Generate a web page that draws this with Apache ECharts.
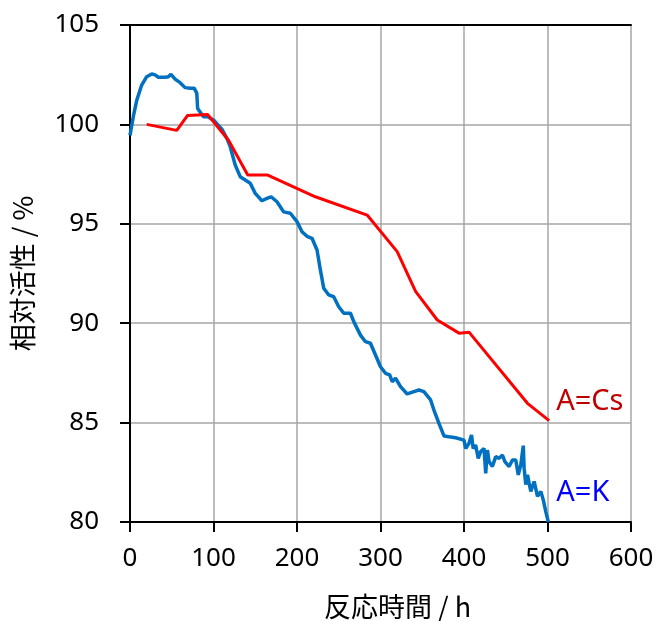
<!DOCTYPE html>
<html>
<head>
<meta charset="utf-8">
<script src="https://cdn.jsdelivr.net/npm/echarts@6/dist/echarts.min.js"></script>
<style>
  html, body { margin: 0; padding: 0; background: #fff; }
  #chart { width: 656px; height: 621px; }
</style>
</head>
<body>
<div id="chart"></div>
<script>
// A=Cs (red)
const csHours = [20, 56, 69, 93, 118, 141, 165, 222, 284, 320, 342, 368, 394, 406, 476, 502];
const csActivity = [100.0, 99.7, 100.45, 100.5, 99.2, 97.45, 97.45, 96.36, 95.44, 93.6, 91.6, 90.16, 89.5, 89.55, 85.97, 85.1];

// A=K (blue)
const kHours = [0, 4, 8, 14, 20, 26, 30, 34, 42, 46, 49, 54, 60, 66, 72, 77, 80, 81, 88, 93, 100, 110, 116, 120,
  126, 132, 138, 144, 150, 158, 164, 169, 176, 184, 192, 200, 206, 212, 218, 224, 228, 232, 238, 244, 250, 256,
  264, 268, 276, 282, 288, 294, 300, 306, 311, 314, 318, 324, 332, 340, 346, 352, 360, 364, 370, 376, 382, 390,
  400, 402, 406, 409, 411, 414, 417, 420, 424, 426, 428, 430, 434, 438, 442, 446, 449, 454, 458, 462, 465, 468,
  471, 472, 474, 476, 480, 484, 488, 492, 495, 498, 501];
const kActivity = [99.45, 100.4, 101.2, 101.98, 102.4, 102.54, 102.49, 102.37, 102.37, 102.4, 102.52, 102.28, 102.1,
  101.85, 101.82, 101.82, 101.56, 100.8, 100.39, 100.39, 100.22, 99.76, 99.3, 98.88,
  97.96, 97.37, 97.2, 97.04, 96.53, 96.16, 96.28, 96.36, 96.11, 95.6, 95.53, 95.11, 94.6, 94.37, 94.27, 93.68,
  92.68, 91.76, 91.42, 91.33, 90.83, 90.5, 90.5, 90.08, 89.4, 89.07, 88.99, 88.4, 87.81, 87.48, 87.4, 87.06,
  87.23, 86.81, 86.44, 86.56, 86.64, 86.56, 86.14, 85.63, 84.96, 84.33, 84.29, 84.24,
  84.12, 83.7, 83.96, 84.38, 83.7, 83.87, 83.2, 83.54, 83.7, 82.45, 83.62, 83.04, 82.79, 83.29, 83.2, 83.37,
  83.04, 82.79, 83.12, 83.12, 82.37, 82.87, 83.84, 82.71, 81.88, 82.37, 81.54, 82.04, 81.29, 81.54, 81.1,
  80.51, 80.0];

const xTicks = [0, 600, 100];
const yTicks = [80, 105, 5];

const pair = (xs, ys) => xs.map((x, i) => [x, ys[i]]);

const chart = echarts.init(document.getElementById('chart'));
const numFont = 'Noto Sans';
const cjkFont = '"Noto Sans CJK JP", "Noto Sans"';

chart.setOption({
  animation: false,
  grid: { left: 130, right: 25, top: 25, bottom: 99, outerBoundsMode: 'none', containLabel: false },
  xAxis: [
    {
      type: 'value', min: xTicks[0], max: xTicks[1], interval: xTicks[2],
      name: '反応時間 / h', nameLocation: 'middle', nameGap: 71,
      nameTextStyle: { fontFamily: cjkFont, fontSize: 27, color: '#000', padding: [0, 0, 0, 34] },
      axisLine: { onZero: false, lineStyle: { color: '#000', width: 2 } },
      axisTick: { show: true, inside: false, length: 10, lineStyle: { color: '#000', width: 2 } },
      axisLabel: { margin: 24, fontFamily: numFont, fontSize: 26, color: '#000' },
      splitLine: { show: true, lineStyle: { color: '#A6A6A6', width: 1.5 } }
    },
    {
      type: 'value', position: 'top', min: xTicks[0], max: xTicks[1], interval: xTicks[2],
      axisLine: { show: true, lineStyle: { color: '#000', width: 2 } },
      axisTick: { show: false }, axisLabel: { show: false }, splitLine: { show: false }
    }
  ],
  yAxis: [
    {
      type: 'value', min: yTicks[0], max: yTicks[1], interval: yTicks[2],
      name: '相対活性 / %', nameLocation: 'middle', nameGap: 94,
      nameTextStyle: { fontFamily: cjkFont, fontSize: 27, color: '#000' },
      axisLine: { show: true, onZero: false, lineStyle: { color: '#000', width: 2 } },
      axisTick: { show: true, inside: false, length: 10, lineStyle: { color: '#000', width: 2 } },
      axisLabel: { margin: 31, fontFamily: numFont, fontSize: 26, color: '#000' },
      splitLine: { show: true, lineStyle: { color: '#A6A6A6', width: 1.5 } }
    },
    {
      type: 'value', position: 'right', min: yTicks[0], max: yTicks[1], interval: yTicks[2],
      axisLine: { show: true, lineStyle: { color: '#000', width: 2 } },
      axisTick: { show: false }, axisLabel: { show: false }, splitLine: { show: false }
    }
  ],
  series: [
    {
      name: 'A=Cs', type: 'line', data: pair(csHours, csActivity),
      showSymbol: false, symbol: 'none',
      lineStyle: { color: '#FF0000', width: 3 },
      endLabel: {
        show: true, formatter: 'A=Cs', color: '#C00000',
        fontFamily: numFont, fontSize: 29, offset: [-1, -19]
      },
      z: 3
    },
    {
      name: 'A=K', type: 'line', data: pair(kHours, kActivity),
      showSymbol: false, symbol: 'none',
      lineStyle: { color: '#0070C0', width: 3.5 },
      endLabel: {
        show: true, formatter: 'A=K', color: '#0000FF',
        fontFamily: numFont, fontSize: 29, offset: [0, -29]
      },
      z: 2
    }
  ]
});
</script>
</body>
</html>
